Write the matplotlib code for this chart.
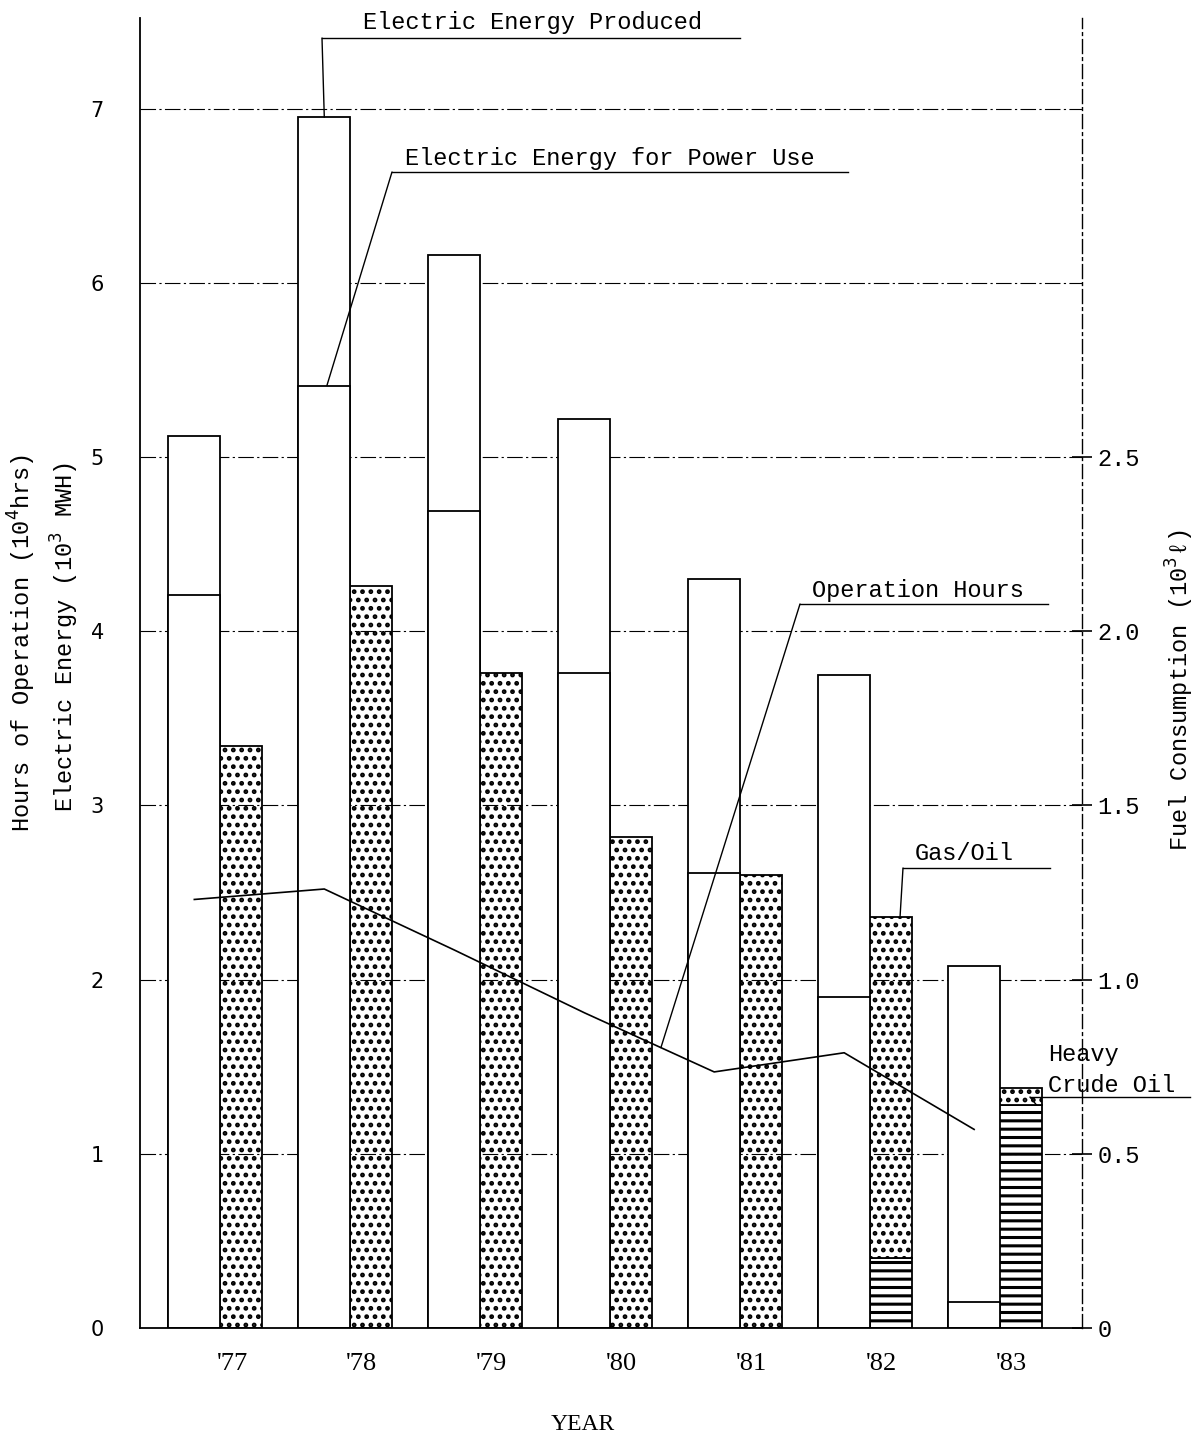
import numpy as np
import matplotlib
matplotlib.use('Agg')
import matplotlib.pyplot as plt
from matplotlib.lines import Line2D

# data
years = ["'77", "'78", "'79", "'80", "'81", "'82", "'83"]
energy_produced = [5.12, 6.95, 6.16, 5.22, 4.30, 3.75, 2.08]   # 10^3 MWH
energy_power_use = [4.21, 5.41, 4.69, 3.76, 2.61, 1.90, 0.15]  # 10^3 MWH
operation_hours = [2.46, 2.52, 2.17, 1.81, 1.47, 1.58, 1.14]   # 10^4 hrs
gas_oil = [1.67, 2.13, 1.88, 1.41, 1.30, 0.98, 0.05]           # 10^3 l
heavy_crude = [0, 0, 0, 0, 0, 0.20, 0.64]                      # 10^3 l

mono = 'Liberation Mono'
serif = 'Liberation Serif'
plt.rcParams['hatch.linewidth'] = 2.2

W, H = 1197, 1441
fig = plt.figure(figsize=(W / 100, H / 100), dpi=100)
ax = fig.add_axes([140 / W, 1 - 1328 / H, 942 / W, 1310 / H])
ax2 = ax.twinx()

x = np.arange(len(years))
w = 0.40
xw = x - 0.29
xf = x + 0.04

# grid lines
for v in range(1, 8):
    ax.axhline(v, color='black', lw=0.8, ls=(0, (14, 3, 2, 3)), zorder=0)

# electric energy bars
ax.bar(xw, energy_produced, w, facecolor='white', edgecolor='black', lw=1.3, zorder=2)
ax.bar(xw, energy_power_use, w, facecolor='white', edgecolor='black', lw=1.3, zorder=2)

# fuel bars on right axis
ax2.bar(xf, heavy_crude, w * 0.95, facecolor='white', edgecolor='black', lw=1.3,
        hatch='--', zorder=2)
ax2.bar(xf, gas_oil, w * 0.95, bottom=heavy_crude, facecolor='white', edgecolor='black',
        lw=1.3, hatch='..', zorder=2)

# operation hours line
ax.plot(xw, operation_hours, color='black', lw=1.2, zorder=4)

ax.set_xlim(-0.708, 6.54)
ax.set_ylim(0, 7.52)
ax2.set_ylim(0, 3.76)
ax.set_zorder(ax2.get_zorder() + 1)
ax.patch.set_visible(False)

ax.set_xticks(x)
ax.set_xticklabels(years, fontfamily=serif, fontsize=19)
ax.tick_params(axis='x', length=0, pad=18)
ax.set_yticks(range(8))
ax.set_yticklabels([str(v) for v in range(8)], fontfamily='DejaVu Sans', fontsize=15)
ax.tick_params(axis='y', length=0, pad=26)

ax2.set_yticks([0, 0.5, 1.0, 1.5, 2.0, 2.5])
ax2.set_yticklabels(['0', '0.5', '1.0', '1.5', '2.0', '2.5'], fontfamily=mono, fontsize=17)
ax2.tick_params(axis='y', direction='inout', length=14, width=1.2, pad=4)

for a in (ax, ax2):
    a.spines['top'].set_visible(False)
    a.spines['left'].set_linewidth(1.3)
    a.spines['bottom'].set_linewidth(1.3)
ax.spines['right'].set_visible(False)
ax2.spines['left'].set_visible(False)
ax2.spines['bottom'].set_visible(False)
ax2.spines['right'].set_linestyle((0, (10, 3, 2, 3)))
ax2.spines['right'].set_linewidth(1.0)

# axis titles
fig.text(22 / W, 1 - 643 / H, 'Hours of Operation (10$^4$hrs)', rotation=90,
         ha='center', va='center', fontfamily=mono, fontsize=17)
fig.text(65 / W, 1 - 637 / H, 'Electric Energy (10$^3$ MWH)', rotation=90,
         ha='center', va='center', fontfamily=mono, fontsize=17)
fig.text(1180 / W, 1 - 690 / H, 'Fuel Consumption (10$^3$ℓ)', rotation=90,
         ha='center', va='center', fontfamily=[mono, 'DejaVu Sans'], fontsize=17)
fig.text(583 / W, 1 - 1425 / H, 'YEAR', ha='center', va='center',
         fontfamily=serif, fontsize=17)


def fpx(px, py):
    return px / W, 1 - py / H


def label(text, tx, ty, ux0, ux1, uy, target, axis=ax):
    fig.text(*fpx(tx, ty), text, ha='left', va='center', fontfamily=mono, fontsize=17)
    fig.add_artist(Line2D([ux0 / W, ux1 / W], [1 - uy / H, 1 - uy / H],
                          color='black', lw=1.0, transform=fig.transFigure))
    axis.annotate('', xy=target, xycoords='data', xytext=fpx(ux0, uy),
                  textcoords='figure fraction',
                  arrowprops=dict(arrowstyle='-', lw=1.0, color='black',
                                  shrinkA=0, shrinkB=0), annotation_clip=False)


label('Electric Energy Produced', 363, 22, 322, 740, 38,
      (xw[1], energy_produced[1]))
label('Electric Energy for Power Use', 405, 158, 392, 848, 172,
      (xw[1] + 0.02, energy_power_use[1]))
hx = 3.3
label('Operation Hours', 812, 590, 800, 1048, 604,
      (hx, np.interp(hx, xw, operation_hours)))
label('Gas/Oil', 915, 853, 903, 1050, 868,
      (xf[5] + 0.1, heavy_crude[5] + gas_oil[5]), axis=ax2)
fig.text(*fpx(1048, 1055), 'Heavy', ha='left', va='center', fontfamily=mono, fontsize=17)
label('Crude Oil', 1048, 1085, 1030, 1190, 1097,
      (xf[6] + 0.15, heavy_crude[6]), axis=ax2)

fig.savefig('out.png', dpi=100, facecolor='white')
